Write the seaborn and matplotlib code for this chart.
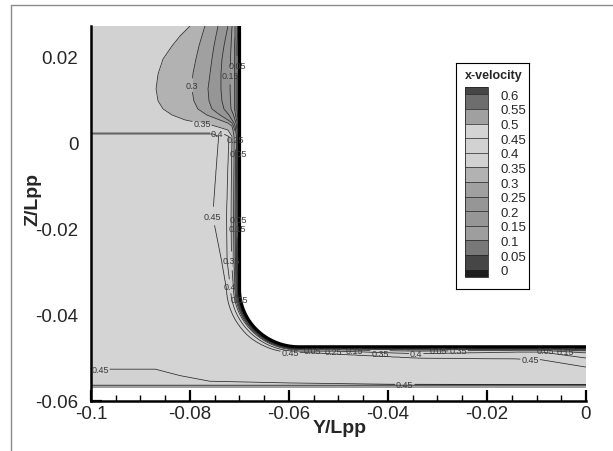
import numpy as np
import matplotlib
matplotlib.use("Agg")
import matplotlib.pyplot as plt
import seaborn as sns
from matplotlib.colors import ListedColormap
from matplotlib.ticker import MultipleLocator, FuncFormatter
from matplotlib.lines import Line2D

# ---------------- legend / contour levels ----------------
levels = [0.0, 0.05, 0.1, 0.15, 0.2, 0.25, 0.3, 0.35, 0.4, 0.45, 0.5, 0.55, 0.6]
level_labels = ["0", "0.05", "0.1", "0.15", "0.2", "0.25", "0.3", "0.35",
                "0.4", "0.45", "0.5", "0.55", "0.6"]
band_grays = [70, 120, 158, 150, 150, 160, 178, 210, 210, 212, 160, 110]
under_gray = 30
over_gray = 70

# ---------------- hull geometry (Y/Lpp, Z/Lpp) ----------------
hull_wall_y = -0.070
bilge_top_z = -0.034
bilge_end_y = -0.058
hull_bottom_z = -0.0474
domain_y = [-0.1, 0.0]
domain_z = [-0.0569, 0.0272]

# ---------------- boundary-layer contour offsets ----------------
# arc coordinate along the hull (top of wall -> bilge -> bottom)
station_t = [0.0, 0.0023, 0.00464, 0.00767, 0.01115, 0.01464, 0.01743, 0.01929, 0.02069,
             0.02185, 0.02255, 0.02325, 0.02418, 0.0257, 0.0316, 0.0442, 0.0546, 0.0612,
             0.0712, 0.0812, 0.0892, 0.1052, 0.1252, 0.1302, 0.1392]
dist_005 = [0.0004, 0.0004, 0.0005, 0.0005, 0.0005, 0.0005, 0.0005, 0.0005, 0.0004,
            0.0003, 0.00022, 0.0002, 0.00017, 0.00015, 0.00015, 0.00016, 0.00015, 0.00013,
            0.0001, 0.0001, 0.00008, 0.0001, 0.00009, 0.00009, 0.00012]
dist_010 = [0.0009, 0.0009, 0.0010, 0.0010, 0.0010, 0.0010, 0.0010, 0.0010, 0.0008,
            0.0006, 0.00045, 0.0004, 0.00033, 0.0003, 0.0003, 0.00033, 0.0003, 0.00026,
            0.0002, 0.00017, 0.00015, 0.0002, 0.00017, 0.00017, 0.00025]
dist_015 = [0.0015, 0.0016, 0.0017, 0.0018, 0.0019, 0.0019, 0.0018, 0.0017, 0.0012,
            0.0009, 0.0007, 0.0006, 0.0005, 0.00045, 0.00045, 0.0005, 0.00045, 0.0004,
            0.0003, 0.00025, 0.00022, 0.0003, 0.00025, 0.00025, 0.0004]
dist_020 = [0.00232, 0.00273, 0.00313, 0.00354, 0.00374, 0.00374, 0.00354, 0.00313, 0.00212,
            0.0015, 0.0011, 0.0009, 0.0008, 0.0006, 0.0006, 0.0007, 0.0006, 0.0005,
            0.00042, 0.00035, 0.0003, 0.0004, 0.00035, 0.00035, 0.0005]
dist_025 = [0.00434, 0.00475, 0.00515, 0.00556, 0.00596, 0.00636, 0.00616, 0.00556, 0.00394,
            0.00232, 0.0015, 0.0012, 0.0010, 0.0008, 0.0008, 0.0009, 0.0008, 0.0007,
            0.00055, 0.00045, 0.0004, 0.00055, 0.00045, 0.00045, 0.0007]
dist_030 = [0.00697, 0.00758, 0.00818, 0.00879, 0.0094, 0.0096, 0.0092, 0.0084, 0.00657,
            0.00394, 0.00232, 0.0015, 0.0013, 0.0011, 0.0011, 0.0012, 0.0011, 0.0009,
            0.0007, 0.00055, 0.0005, 0.0007, 0.0006, 0.0006, 0.0009]
dist_035 = [0.0100, 0.0120, 0.01364, 0.01545, 0.01646, 0.01687, 0.01646, 0.01545, 0.01364,
            0.0110, 0.0080, 0.00495, 0.00232, 0.0015, 0.0016, 0.0017, 0.0016, 0.0012,
            0.0009, 0.0007, 0.0007, 0.0010, 0.0008, 0.0008, 0.0014]
dist_040 = [0.0140, 0.0160, 0.01764, 0.01945, 0.02046, 0.02087, 0.02046, 0.01945, 0.01764,
            0.0150, 0.0120, 0.00895, 0.0050, 0.0021, 0.0023, 0.0026, 0.0025, 0.0018,
            0.0014, 0.0010, 0.0010, 0.0016, 0.0012, 0.0012, 0.0026]
dist_045 = [0.0180, 0.0200, 0.02164, 0.02345, 0.02446, 0.02487, 0.02446, 0.02345, 0.02164,
            0.0190, 0.0160, 0.01295, 0.0070, 0.0042, 0.0046, 0.0054, 0.0036, 0.0026,
            0.0022, 0.0012, 0.0017, 0.0026, 0.0028, 0.0030, 0.0047]
dist_050 = [0.0240, 0.0260, 0.02764, 0.02945, 0.03046, 0.03087, 0.03046, 0.02945, 0.02764,
            0.0250, 0.0220, 0.01895, 0.0130, 0.0102, 0.0106, 0.0114, 0.0096, 0.0086,
            0.0082, 0.0072, 0.0077, 0.0086, 0.0088, 0.0090, 0.0107]
bl_levels = [0.05, 0.1, 0.15, 0.2, 0.25, 0.3, 0.35, 0.4, 0.45, 0.5]

# ---------------- outer flow ----------------
outer_core = 0.47
outer_top = 0.38
top_interface_z = [0.0020, 0.0024]
outer_bottom = 0.43
bottom_layer_y = [-0.1, -0.087, -0.082, -0.076, -0.06, -0.04, 0.0]
bottom_layer_z = [-0.0526, -0.0526, -0.0541, -0.0554, -0.0558, -0.0561, -0.0562]
bottom_edge_value = 0.52
bottom_edge_top = -0.05635

# ---------------- contour label positions ----------------
label_pos = {
    0.05: [(-0.0693, 0.0181), (-0.0693, -0.0025), (-0.0693, -0.0177), (-0.0697, -0.0363),
           (-0.05535, -0.0472), (-0.0299, -0.0472), (-0.0083, -0.0472)],
    0.15: [(-0.0697, 0.0158), (-0.0703, -0.0198), (-0.04687, -0.0472), (-0.0042, -0.0472)],
    0.25: [(-0.0699, 0.0007), (-0.05111, -0.0472)],
    0.3: [(-0.0774, 0.0133)],
    0.35: [(-0.0774, 0.0056), (-0.0709, -0.0274), (-0.04162, -0.0486), (-0.02586, -0.0474)],
    0.4: [(-0.0745, 0.0016), (-0.0719, -0.0333), (-0.0343, -0.0491)],
    0.45: [(-0.0754, -0.0170), (-0.0598, -0.0484), (-0.0113, -0.0505), (-0.0982, -0.0526),
           (-0.0366, -0.0560)],
}

# ================= build the field =================
yy = np.linspace(domain_y[0], domain_y[1], 1001)
zz = np.linspace(domain_z[0], domain_z[1], 841)
Y, Z = np.meshgrid(yy, zz)
y = Y.ravel(); z = Z.ravel()

rx = bilge_end_y - hull_wall_y
rz = bilge_top_z - hull_bottom_z
bilge_len = np.pi / 2 * np.sqrt((rx ** 2 + rz ** 2) / 2)
t0_bilge = domain_z[1] - bilge_top_z
t0_bottom = t0_bilge + bilge_len

d = np.zeros_like(y); t = np.zeros_like(y); hull = np.zeros(y.shape, bool)
A = z >= bilge_top_z
d[A] = hull_wall_y - y[A]; t[A] = domain_z[1] - z[A]; hull[A] = y[A] > hull_wall_y
B = (~A) & (y < bilge_end_y)
ex = (y[B] - bilge_end_y) / rx; ez = (z[B] - bilge_top_z) / rz
r = np.hypot(ex, ez); phi = np.arctan2(-ez, -ex)
d[B] = (r - 1) * np.sqrt((rx * np.cos(phi)) ** 2 + (rz * np.sin(phi)) ** 2)
t[B] = t0_bilge + phi / (np.pi / 2) * bilge_len
hull[B] = r < 1
C = (~A) & (y >= bilge_end_y)
d[C] = hull_bottom_z - z[C]; t[C] = t0_bottom + (y[C] - bilge_end_y); hull[C] = z[C] > hull_bottom_z
d = np.clip(d, 0, None)

dists = [dist_005, dist_010, dist_015, dist_020, dist_025, dist_030, dist_035, dist_040,
         dist_045, dist_050]
D = np.stack([np.interp(t, station_t, dk) for dk in dists])
u_bl = np.full(y.shape, 0.5)
m = d < D[0]
u_bl[m] = bl_levels[0] * d[m] / D[0][m]
for k in range(len(bl_levels) - 1):
    m = (d >= D[k]) & (d < D[k + 1])
    u_bl[m] = bl_levels[k] + (bl_levels[k + 1] - bl_levels[k]) * (d[m] - D[k][m]) / (D[k + 1][m] - D[k][m])

u_top = np.interp(z, top_interface_z, [outer_core, outer_top])
zb = np.interp(y, bottom_layer_y, bottom_layer_z)
u_bot = np.interp(z - zb, [-0.0003, 0.0003], [outer_bottom, outer_core])
U = np.minimum.reduce([u_top, u_bot, u_bl])
U = np.where(z < bottom_edge_top, bottom_edge_value, U).reshape(Y.shape)
U = np.ma.masked_where(hull.reshape(Y.shape), U)

# ================= draw =================
sns.set_theme(style="white")
plt.rcParams['font.family'] = ['Liberation Sans', 'DejaVu Sans']
plt.rcParams['axes.unicode_minus'] = False

fig = plt.figure(figsize=(6.13, 4.52), dpi=100)
ax = fig.add_axes([91 / 613, 50 / 452, 495 / 613, 375 / 452])

g = lambda v: (v / 255, v / 255, v / 255)
cmap = ListedColormap([g(v) for v in band_grays])
cmap.set_under(g(under_gray)); cmap.set_over(g(over_gray))
cf = ax.contourf(Y, Z, U, levels=levels, cmap=cmap, extend='both', zorder=1)

for lev in bl_levels[:-1]:
    cs = ax.contour(Y, Z, U, levels=[lev], colors='#2a2a2a', linewidths=0.55, zorder=2)
    if lev in label_pos:
        txts = cs.clabel(levels=[lev], manual=label_pos[lev], fmt='%g', fontsize=6.5,
                         colors='#3a3a3a', inline=True, inline_spacing=1, zorder=7)
        for tx in txts:
            tx.set_rotation(0)
            lx, lz = tx.get_position()
            if lx > bilge_end_y - 0.002 and hull_bottom_z - 0.0009 < lz < hull_bottom_z:
                tx.set_position((lx, lz - 0.0007))

# hull outline
th = np.linspace(0, np.pi / 2, 60)
hull_y = np.concatenate([[hull_wall_y, hull_wall_y], bilge_end_y - rx * np.cos(th), [domain_y[1]]])
hull_z = np.concatenate([[domain_z[1], bilge_top_z], bilge_top_z - rz * np.sin(th), [hull_bottom_z]])
sns.lineplot(x=hull_y, y=hull_z, sort=False, color='black', linewidth=2.3, ax=ax, zorder=5,
             estimator=None)

ax.set_xlim(-0.1, 0.0)
ax.set_ylim(-0.06, domain_z[1])
for s in ['top', 'right']:
    ax.spines[s].set_visible(False)
for s in ['left', 'bottom']:
    ax.spines[s].set_linewidth(1.8); ax.spines[s].set_color('black')
ax.xaxis.set_major_locator(MultipleLocator(0.02))
ax.xaxis.set_minor_locator(MultipleLocator(0.005))
ax.yaxis.set_major_locator(MultipleLocator(0.02))
ax.yaxis.set_minor_locator(MultipleLocator(0.005))
fmt = FuncFormatter(lambda v, p: '0' if abs(v) < 1e-12 else f'{v:g}')
ax.xaxis.set_major_formatter(fmt); ax.yaxis.set_major_formatter(fmt)
ax.tick_params(which='major', direction='in', length=8, width=1.6, labelsize=13.5, color='black')
ax.tick_params(which='minor', direction='in', length=4, width=1.0, color='black')
ax.tick_params(axis='x', which='both', bottom=True, top=False, pad=3)
ax.tick_params(axis='y', which='both', left=True, right=False, pad=9)
ax.set_xlabel('Y/Lpp', fontsize=14, fontweight='bold')
ax.set_ylabel('Z/Lpp', fontsize=14, fontweight='bold')
ax.xaxis.set_label_coords(0.503, -0.048)
ax.yaxis.set_label_coords(-0.10, 0.54)

# legend frame
lax = fig.add_axes([456 / 613, (452 - 290) / 452, 73 / 613, 226 / 452])
lax.set_xticks([]); lax.set_yticks([])
lax.set_facecolor('white')
for s in lax.spines.values():
    s.set_linewidth(0.8); s.set_color('black'); s.set_visible(True)
lax.text(0.52, 0.947, 'x-velocity', transform=lax.transAxes, ha='center', va='center',
         fontsize=9, fontweight='bold')
cax = fig.add_axes([465 / 613, (452 - 278) / 452, 23 / 613, 190 / 452])
cb = fig.colorbar(cf, cax=cax, extendrect=True, extendfrac=0.5 / 12, drawedges=True)
cb.set_ticks(levels)
cb.ax.set_yticklabels(level_labels)
cb.ax.tick_params(length=0, pad=9, labelsize=9.5)
cb.outline.set_linewidth(0.6)
cb.dividers.set_linewidth(0.5); cb.dividers.set_color('#222222')

# outer frame
fig.add_artist(Line2D([11 / 613, 11 / 613], [0, 1 - 6 / 452], transform=fig.transFigure,
                      color='#8a8a8a', lw=1.0))
fig.add_artist(Line2D([11 / 613, 1], [1 - 6 / 452, 1 - 6 / 452], transform=fig.transFigure,
                      color='#8a8a8a', lw=1.0))

fig.savefig('out.png', dpi=100)
